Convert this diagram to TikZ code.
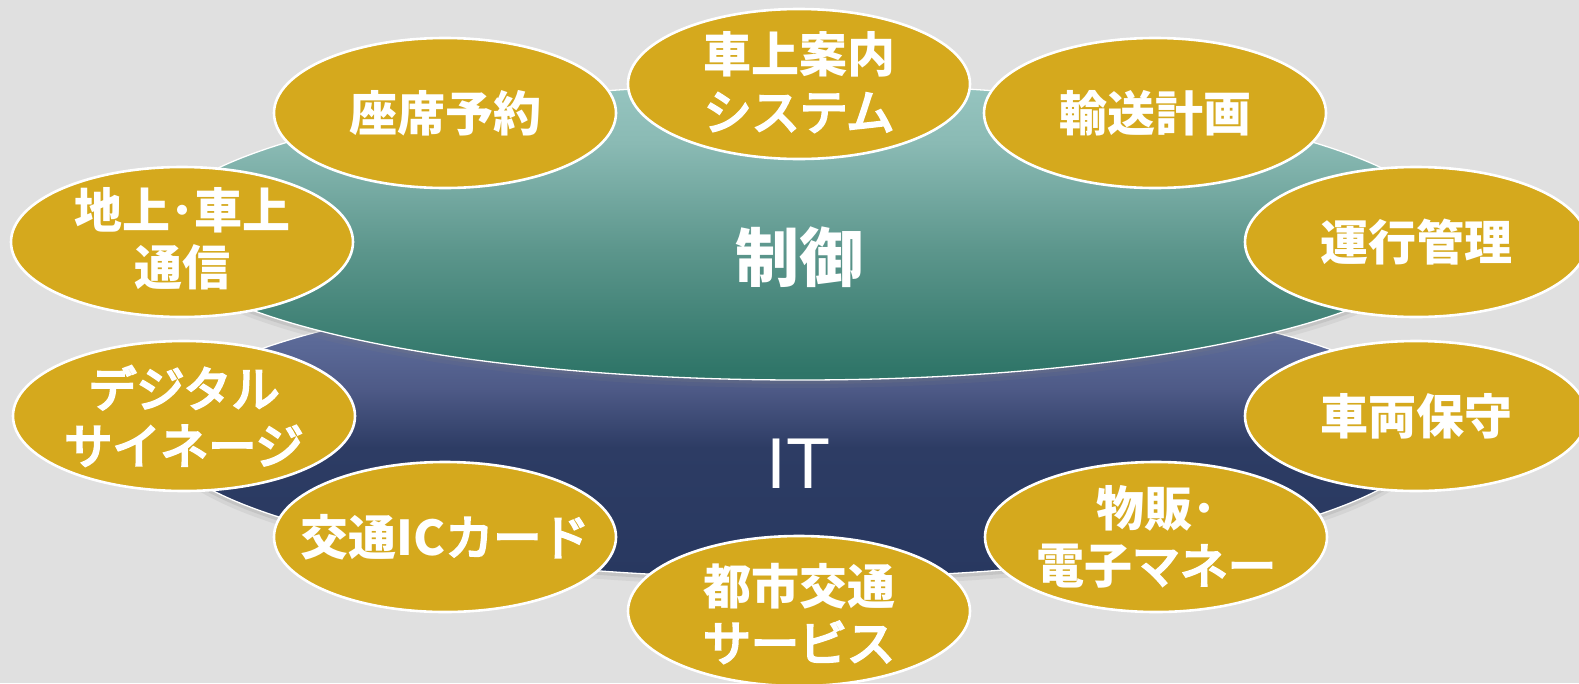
\documentclass[tikz,border=0pt]{standalone}
\usepackage{fontspec}
\setmainfont{Liberation Sans}
\newfontfamily\jpfont{Noto Sans CJK JP}
\newfontfamily\jpmed{Noto Sans CJK JP}[FakeBold=5]
\usetikzlibrary{shapes.geometric,shadows}
\definecolor{bgc}{RGB}{224,224,224}
\definecolor{goldc}{RGB}{213,169,29}
\definecolor{tA}{RGB}{46,116,103}
\definecolor{tB}{RGB}{48,118,105}
\definecolor{tC}{RGB}{92,150,140}
\definecolor{tD}{RGB}{138,186,180}
\definecolor{tE}{RGB}{150,197,192}
\definecolor{iA}{RGB}{40,56,96}
\definecolor{iB}{RGB}{45,60,100}
\definecolor{iC}{RGB}{78,90,135}
\definecolor{iD}{RGB}{90,104,150}
\definecolor{iE}{RGB}{105,118,165}
\pgfdeclareverticalshading{tealshade}{100bp}{color(0bp)=(tA); color(25bp)=(tA); color(27bp)=(tB); color(47bp)=(tC); color(65bp)=(tD); color(75bp)=(tE); color(100bp)=(tE)}
\pgfdeclareverticalshading{itshade}{100bp}{color(0bp)=(iA); color(25bp)=(iA); color(47bp)=(iB); color(57bp)=(iC); color(64bp)=(iD); color(75bp)=(iE); color(100bp)=(iE)}
\newcommand{\kana}[1]{{\jpmed\mdseries #1}}
\tikzset{
  bigell/.style={ellipse, inner sep=0pt, draw=white, line width=1.3pt,
    drop shadow={shadow xshift=0pt, shadow yshift=-8pt, opacity=.12},
    drop shadow={shadow xshift=0pt, shadow yshift=-4pt, opacity=.18}},
  goldell/.style={ellipse, inner sep=0pt, minimum width=342pt, minimum height=150pt,
    fill=goldc, draw=white, line width=2.6pt},
  goldtxt/.style={text=white, align=center, inner sep=0pt,
    font=\jpfont\bfseries\fontsize{48}{57}\selectfont},
  bigtxt/.style={text=white, inner sep=0pt},
}
\begin{document}
\begin{tikzpicture}[x=1pt,y=-1pt]
\useasboundingbox (0,0) rectangle (1579,683);
\fill[bgc] (0,0) rectangle (1579,683);
\clip (0,0) rectangle (1579,683);
% large ellipses
\node[bigell, shading=itshade, minimum width=1276pt, minimum height=296pt] (it) at (795,430) {};
\node[bigell, shading=tealshade, minimum width=1290pt, minimum height=296pt] (ctl) at (800,232) {};
\node[bigtxt, font=\jpfont\bfseries\fontsize{64}{70}\selectfont] (ctltxt) at (799,257) {制御};
\node[bigtxt, font=\fontsize{72}{80}\selectfont] (ittxt) at (798,464) {IT};
% satellite ellipses
\node[goldell] (e1) at (445,113) {};
\node[goldtxt] (t1) at (e1.center) {座席予約};
\node[goldell] (e2) at (799,84) {};
\node[goldtxt] (t2) at ([yshift=2pt]e2.center) {車上案内\\\kana{システム}};
\node[goldell] (e3) at (1155,113) {};
\node[goldtxt] (t3) at (e3.center) {輸送計画};
\node[goldell] (e4) at (182,242) {};
\node[goldtxt] (t4) at ([yshift=3pt]e4.center) {地上･車上\\通信};
\node[goldell] (e5) at (1416,242) {};
\node[goldtxt] (t5) at (e5.center) {運行管理};
\node[goldell] (e6) at (184,416) {};
\node[goldtxt] (t6) at (e6.center) {\kana{デジタル}\\\kana{サイネージ}};
\node[goldell] (e7) at (1416,416) {};
\node[goldtxt] (t7) at (e7.center) {車両保守};
\node[goldell] (e8) at (445,537) {};
\node[goldtxt] (t8) at (e8.center) {交通IC\kana{カード}};
\node[goldell] (e9) at (1156,537) {};
\node[goldtxt] (t9) at (e9.center) {物販･\\電子\kana{マネー}};
\node[goldell] (e10) at (799,611) {};
\node[goldtxt] (t10) at ([yshift=-2pt]e10.center) {都市交通\\\kana{サービス}};
\end{tikzpicture}
\end{document}
